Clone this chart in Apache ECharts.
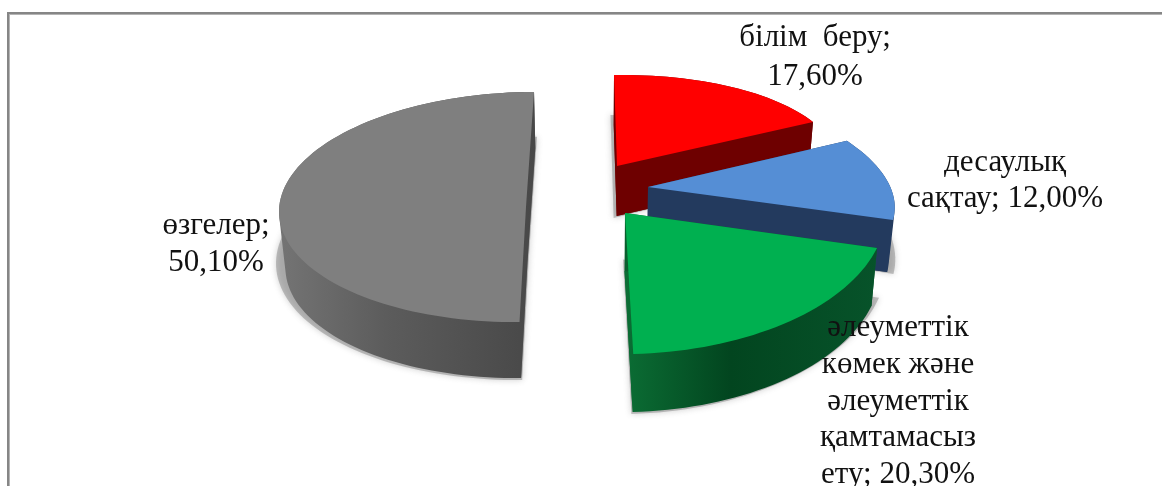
<!DOCTYPE html>
<html><head><meta charset="utf-8">
<style>html,body{margin:0;padding:0;background:#fff}#c{width:1162px;height:486px}</style>
<script src="https://cdn.jsdelivr.net/npm/echarts@6/dist/echarts.min.js"></script>
</head><body><div id="c"></div>
<script>
// Data
const categories = ['білім беру', 'денсаулық сақтау', 'әлеуметтік көмек және әлеуметтік қамтамасыз ету', 'өзгелер'];
const values = [17.6, 12.0, 20.3, 50.1];
const labels = [
  ['білім  беру;', '17,60%'],
  ['десаулық', 'сақтау; 12,00%'],
  ['әлеуметтік', 'көмек және', 'әлеуметтік', 'қамтамасыз', 'ету; 20,30%'],
  ['өзгелер;', '50,10%']
];
// Layout / styling
const firstAngle = 2;
const geometry = [
  {cx:617, cy:166, a:220.5, k:-10.7, b:90.8,  m:-6.8,  depth:50, grow:7},
  {cx:648, cy:187, a:241.7, k:-49.8, b:107.6, m:-1.4,  depth:52, grow:1},
  {cx:625, cy:213, a:260.6, k:-15.7, b:140.7, m:-10.4, depth:58, grow:4},
  {cx:526, cy:207, a:247,   k:-0.6,  b:115,   m:-5,    depth:56, grow:6}
];
const topColors = ['#ff0000', '#558ed5', '#00b050', '#7f7f7f'];
const faceColors = ['#6e0000', '#233a5e', '#0a5f2e', '#6c6c6c'];
const sideStops = [
  ['#6e0000', '#6e0000', '#6e0000'],
  ['#233a5e', '#233a5e', '#233a5e'],
  ['#0b6d34', '#02451f', '#07532a'],
  ['#747474', '#5c5c5c', '#484848']
];
const labelPos = [[815, 38, 39], [1005, 163, 35.5], [898, 328, 36.7], [216, 226, 36.5]];
const vanishX = 600, shrink = 0.02;

const total = values.reduce((s, v) => s + v, 0);
let acc = 0;
const spans = values.map(v => { const s = firstAngle + acc / total * 360; acc += v; return [s, firstAngle + acc / total * 360]; });

function pt(g, deg) {
  const t = deg * Math.PI / 180, s = Math.sin(t), c = Math.cos(t);
  return [g.cx + g.a * s + g.k * c, g.cy - g.b * c + g.m * s];
}
function low(g, p) { return [p[0] + (vanishX - p[0]) * shrink, p[1] + g.depth]; }
function rimPts(g, span) {
  const pts = [], n = Math.ceil((span[1] - span[0]) / 2);
  for (let i = 0; i <= n; i++) pts.push(pt(g, span[0] + (span[1] - span[0]) * i / n));
  return pts;
}
function d(input) {
  let area = 0;
  input.forEach((p, i) => { const q = input[(i + 1) % input.length]; area += p[0] * q[1] - q[0] * p[1]; });
  const pts = area < 0 ? input.slice().reverse() : input;
  return 'M' + pts.map(p => p[0].toFixed(2) + ' ' + p[1].toFixed(2)).join('L') + 'Z';
}

function renderItem(params) {
  const i = params.dataIndex, g = geometry[i], span = spans[i];
  const rim = rimPts(g, span), apex = [g.cx, g.cy];
  const top = [apex].concat(rim);
  const bottom = top.map(p => low(g, p));
  const faces = d([apex, rim[0], bottom[1], bottom[0]]) +
    d([apex, rim[rim.length - 1], bottom[bottom.length - 1], bottom[0]]);
  let wall = d(bottom);
  for (let j = 0; j < rim.length - 1; j++) wall += d([rim[j], rim[j + 1], bottom[j + 2], bottom[j + 1]]);
  const xs = top.map(p => p[0]), ys = top.map(p => p[1]);
  const x0 = Math.min.apply(null, xs), x1 = Math.max.apply(null, xs);
  const y0 = Math.min.apply(null, ys), y1 = Math.max.apply(null, ys);
  const st = sideStops[i];
  const grad = {type:'linear', x:x0, y:0, x2:x1, y2:0, global:true,
    colorStops:[{offset:0,color:st[0]},{offset:0.42,color:st[1]},{offset:1,color:st[2]}]};
  const xc = (x0 + x1) / 2, sx = 1 + g.grow / (x1 - x0);
  const shTop = g.depth * 0.8, shBottom = g.depth + 2;
  const shadowPts = top.map(p => {
    const f = (p[1] - y0) / (y1 - y0);
    return [xc + (p[0] - xc) * sx, p[1] + shTop + (shBottom - shTop) * f];
  });
  const lp = labelPos[i];
  return {type:'group', children:[
    {type:'path', shape:{pathData:d(shadowPts)}, style:{fill:'rgba(110,110,110,0.4)', shadowBlur:6, shadowColor:'rgba(110,110,110,0.8)'}, silent:true},
    {type:'path', shape:{pathData:faces}, style:{fill:faceColors[i]}},
    {type:'path', shape:{pathData:wall}, style:{fill:grad}},
    {type:'path', shape:{pathData:d(top)}, style:{fill:topColors[i]}},
    {type:'text', z2:50, style:{x:lp[0], y:lp[1] - lp[2] / 2, text:labels[i].join('\n'), align:'center', verticalAlign:'top',
      font:'31px "Liberation Serif"', lineHeight:lp[2], fill:'#111'}}
  ]};
}

const chart = echarts.init(document.getElementById('c'), null, {renderer:'canvas'});
chart.setOption({
  animation:false,
  backgroundColor:'#fff',
  graphic:[
    {type:'rect', z:-1, shape:{x:7, y:12, width:1155, height:2}, style:{fill:'#868686'}},
    {type:'rect', z:-1, shape:{x:9, y:14, width:1153, height:1}, style:{fill:'#b4b4b4'}},
    {type:'rect', z:-1, shape:{x:7, y:12, width:2, height:474}, style:{fill:'#868686'}},
    {type:'rect', z:-1, shape:{x:9, y:14, width:1, height:472}, style:{fill:'#b4b4b4'}}
  ],
  series:[{type:'custom', coordinateSystem:'none', clip:false, renderItem,
    data:categories.map((n, i) => ({name:n, value:values[i]}))}]
});
</script></body></html>
